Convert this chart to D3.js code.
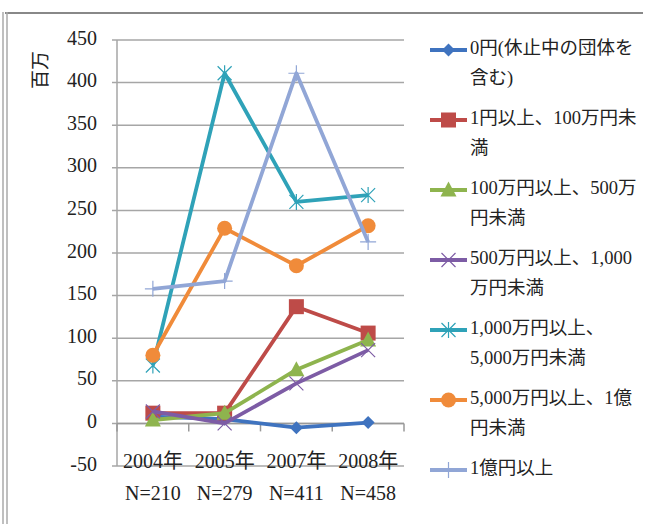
<!DOCTYPE html>
<html>
<head>
<meta charset="utf-8">
<script src="https://cdn.jsdelivr.net/npm/d3@7"></script>
<style>
  body { margin: 0; background: #fff; }
  text { font-family: "Liberation Serif", "DejaVu Serif", "Noto Sans CJK JP", serif; fill: #222; }
</style>
</head>
<body>
<script>
var years = ['2004年', '2005年', '2007年', '2008年'];
var counts = ['N=210', 'N=279', 'N=411', 'N=458'];
var yTicks = [-50, 0, 50, 100, 150, 200, 250, 300, 350, 400, 450];

var seriesNames = [
	['0円(休止中の団体を', '含む)'],
	['1円以上、100万円未', '満'],
	['100万円以上、500万', '円未満'],
	['500万円以上、1,000', '万円未満'],
	['1,000万円以上、', '5,000万円未満'],
	['5,000万円以上、1億', '円未満'],
	['1億円以上']
];
var zeroYen = [8, 5, -5, 1];
var under1m = [12, 12, 137, 106];
var under5m = [4, 12, 63, 98];
var under10m = [14, 0, 47, 86];
var under50m = [68, 411, 260, 268];
var under100m = [80, 229, 185, 232];
var over100m = [158, 167, 411, 213];
var seriesValues = [zeroYen, under1m, under5m, under10m, under50m, under100m, over100m];
var seriesColors = ['#3F73BF', '#BE4B48', '#8EB44E', '#7D5CA5', '#2FA2B8', '#F08B3A', '#91A6D6'];
var seriesMarkers = ['diamond', 'square', 'triangle', 'cross', 'asterisk', 'circle', 'plus'];

var svg = d3.select('body').append('svg')
	.attr('width', 645)
	.attr('height', 524);

// frame
svg.append('line').attr('x1', 5).attr('x2', 643).attr('y1', 13).attr('y2', 13)
	.attr('stroke', '#888').attr('stroke-width', 2);
[3, 7].forEach(function(x){
	svg.append('line').attr('x1', x).attr('x2', x).attr('y1', 12).attr('y2', 524)
		.attr('stroke', '#aaa').attr('stroke-width', 1.5);
});

var x = d3.scaleBand().domain(years).range([117, 404]);
var y = d3.scaleLinear().domain([-50, 450]).range([466, 40]);

var grid = svg.append('g');
grid.selectAll('line').data(yTicks).enter().append('line')
	.attr('x1', 112).attr('x2', 404)
	.attr('y1', function(d){return y(d)}).attr('y2', function(d){return y(d)})
	.attr('stroke', '#a6a6a6').attr('stroke-width', 1.5);

grid.selectAll('text').data(yTicks).enter().append('text')
	.attr('x', 97).attr('y', function(d){return y(d)})
	.attr('text-anchor', 'end').attr('dominant-baseline', 'middle')
	.style('font-size', '20px')
	.text(function(d){return d});

// axes lines
svg.append('line').attr('x1', 117).attr('x2', 117).attr('y1', y(450)).attr('y2', y(-50))
	.attr('stroke', '#a6a6a6').attr('stroke-width', 1.5);
svg.append('line').attr('x1', 117).attr('x2', 404).attr('y1', y(0)).attr('y2', y(0))
	.attr('stroke', '#999').attr('stroke-width', 1.5);
var bounds = years.map(function(d){return x(d)}).concat([x(years[3]) + x.bandwidth()]);
svg.selectAll('.tick').data(bounds).enter().append('line')
	.attr('x1', function(d){return d}).attr('x2', function(d){return d})
	.attr('y1', y(0)).attr('y2', y(0) + 8)
	.attr('stroke', '#999').attr('stroke-width', 1.5);

years.forEach(function(d, i){
	var cx = x(d) + x.bandwidth() / 2;
	svg.append('text').attr('x', cx).attr('y', 463)
		.attr('text-anchor', 'middle').attr('dominant-baseline', 'middle')
		.style('font-size', '20px').text(d);
	svg.append('text').attr('x', cx).attr('y', 495)
		.attr('text-anchor', 'middle').attr('dominant-baseline', 'middle')
		.style('font-size', '20px').text(counts[i]);
});

svg.append('text')
	.attr('transform', 'translate(43,70) rotate(-90)')
	.attr('text-anchor', 'middle').attr('dominant-baseline', 'middle')
	.style('font-size', '19px')
	.text('百万');

var drawMarker = function(g, type, color){
	if (type === 'diamond') {
		g.append('path').attr('d', 'M0,-6.5L6.5,0L0,6.5L-6.5,0Z').attr('fill', color);
	} else if (type === 'square') {
		g.append('rect').attr('x', -7.5).attr('y', -7.5).attr('width', 15).attr('height', 15).attr('fill', color);
	} else if (type === 'triangle') {
		g.append('path').attr('d', 'M0,-8.5L8,6.5L-8,6.5Z').attr('fill', color);
	} else if (type === 'circle') {
		g.append('circle').attr('r', 7.5).attr('fill', color);
	} else if (type === 'cross') {
		g.append('path').attr('d', 'M-7,-7L7,7M-7,7L7,-7').attr('stroke', color).attr('stroke-width', 1.2);
	} else if (type === 'asterisk') {
		g.append('path').attr('d', 'M-7,-7L7,7M-7,7L7,-7M0,-8L0,8').attr('stroke', color).attr('stroke-width', 1.2);
	} else if (type === 'plus') {
		g.append('path').attr('d', 'M-8,0L8,0M0,-8L0,8').attr('stroke', color).attr('stroke-width', 1.2);
	}
};

var line = d3.line()
	.x(function(d, i){return x(years[i]) + x.bandwidth() / 2})
	.y(function(d){return y(d)});

seriesValues.forEach(function(vals, s){
	var g = svg.append('g');
	g.append('path').attr('d', line(vals))
		.attr('fill', 'none').attr('stroke', seriesColors[s])
		.attr('stroke-width', 3.8).attr('stroke-linejoin', 'round');
	vals.forEach(function(v, i){
		var m = g.append('g').attr('transform', 'translate(' + (x(years[i]) + x.bandwidth() / 2) + ',' + y(v) + ')');
		drawMarker(m, seriesMarkers[s], seriesColors[s]);
	});
});

// legend
seriesNames.forEach(function(lines, s){
	var ly = 50 + s * 70;
	var g = svg.append('g');
	g.append('line').attr('x1', 430).attr('x2', 467).attr('y1', ly).attr('y2', ly)
		.attr('stroke', seriesColors[s]).attr('stroke-width', 3.8);
	drawMarker(g.append('g').attr('transform', 'translate(448.5,' + ly + ')'), seriesMarkers[s], seriesColors[s]);
	lines.forEach(function(t, k){
		g.append('text').attr('x', 470).attr('y', ly + k * 30)
			.attr('dominant-baseline', 'middle')
			.style('font-size', '18.5px')
			.text(t);
	});
});
</script>
</body>
</html>
